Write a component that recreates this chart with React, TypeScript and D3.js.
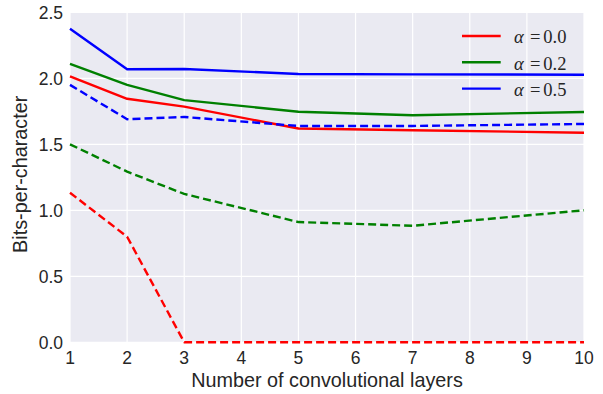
import React from 'react';
import * as d3 from 'd3';

const layers = [1, 2, 3, 5, 7, 10];
const xTicks = [1, 2, 3, 4, 5, 6, 7, 8, 9, 10];
const yTicks = [0, 0.5, 1.0, 1.5, 2.0, 2.5];

// solid = one measure, dashed = the other, per alpha
const alpha00Solid = [2.015, 1.845, 1.785, 1.62, 1.606, 1.588];
const alpha02Solid = [2.11, 1.95, 1.835, 1.747, 1.72, 1.745];
const alpha05Solid = [2.376, 2.068, 2.07, 2.033, 2.03, 2.027];
const alpha00Dashed = [1.133, 0.80, 0.0, 0.0, 0.0, 0.0];
const alpha02Dashed = [1.5, 1.293, 1.124, 0.911, 0.883, 1.0];
const alpha05Dashed = [1.95, 1.69, 1.707, 1.639, 1.639, 1.654];

const legendLabels = ['0.0', '0.2', '0.5'];
const colors = ['#ff0000', '#008000', '#0000ff'];

const W = 603;
const H = 394;
const margin = { top: 12.3, right: 19, bottom: 51.7, left: 70 };

export default function App() {
  const x = d3.scaleLinear()
    .domain([1, 10])
    .range([margin.left, W - margin.right]);
  const y = d3.scaleLinear()
    .domain([0, 2.5])
    .range([H - margin.bottom, margin.top]);

  const line = d3.line<number>()
    .x((_, i) => x(layers[i]))
    .y(d => y(d));

  const series = [
    { values: alpha00Solid, color: colors[0], dashed: false },
    { values: alpha02Solid, color: colors[1], dashed: false },
    { values: alpha05Solid, color: colors[2], dashed: false },
    { values: alpha00Dashed, color: colors[0], dashed: true },
    { values: alpha02Dashed, color: colors[1], dashed: true },
    { values: alpha05Dashed, color: colors[2], dashed: true },
  ];

  const textColor = '#262626';
  const sans = '"Liberation Sans", Arial, sans-serif';
  const serif = '"Liberation Serif", "DejaVu Serif", serif';

  return (
    <svg width={W} height={H} style={{ position: 'absolute', left: 0, top: 0 }}>
      <rect x={0} y={0} width={W} height={H} fill="#ffffff" />
      <rect
        x={x(1)}
        y={y(2.5)}
        width={x(10) - x(1)}
        height={y(0) - y(2.5)}
        fill="#eaeaf2"
      />
      {/* grid */}
      <g stroke="#ffffff" strokeWidth={1.2}>
        {xTicks.map(t => (
          <line key={'gx' + t} x1={x(t)} x2={x(t)} y1={y(0)} y2={y(2.5)} />
        ))}
        {yTicks.map(t => (
          <line key={'gy' + t} x1={x(1)} x2={x(10)} y1={y(t)} y2={y(t)} />
        ))}
      </g>
      {/* lines */}
      <g fill="none" strokeWidth={2.4} strokeLinejoin="round">
        {series.map((s, i) => (
          <path
            key={i}
            d={line(s.values) || ''}
            stroke={s.color}
            strokeDasharray={s.dashed ? '8,4' : undefined}
          />
        ))}
      </g>
      {/* tick labels */}
      <g fill={textColor} fontFamily={sans} fontSize={17.5}>
        {xTicks.map(t => (
          <text key={'tx' + t} x={x(t)} y={363.5} textAnchor="middle">{t}</text>
        ))}
        {yTicks.map(t => (
          <text key={'ty' + t} x={63} y={y(t)} dy="0.36em" textAnchor="end">{t.toFixed(1)}</text>
        ))}
      </g>
      {/* axis labels */}
      <text
        x={(x(1) + x(10)) / 2}
        y={387}
        textAnchor="middle"
        fill={textColor}
        fontFamily={sans}
        fontSize={19.8}
      >
        Number of convolutional layers
      </text>
      <text
        transform={`translate(27,${(y(0) + y(2.5)) / 2 - 3}) rotate(-90)`}
        textAnchor="middle"
        fill={textColor}
        fontFamily={sans}
        fontSize={19.8}
      >
        Bits-per-character
      </text>
      {/* legend */}
      <g>
        {legendLabels.map((lab, i) => (
          <g key={lab} transform={`translate(462,${36 + i * 26.3})`}>
            <line x1={0} x2={38.7} y1={0} y2={0} stroke={colors[i]} strokeWidth={2.4} />
            <text y={7.3} fill={textColor} fontFamily={serif} fontSize={18.5}>
              <tspan x={52} fontStyle="italic">α</tspan>
              <tspan x={68}>=</tspan>
              <tspan x={81.3}>{lab}</tspan>
            </text>
          </g>
        ))}
      </g>
    </svg>
  );
}
